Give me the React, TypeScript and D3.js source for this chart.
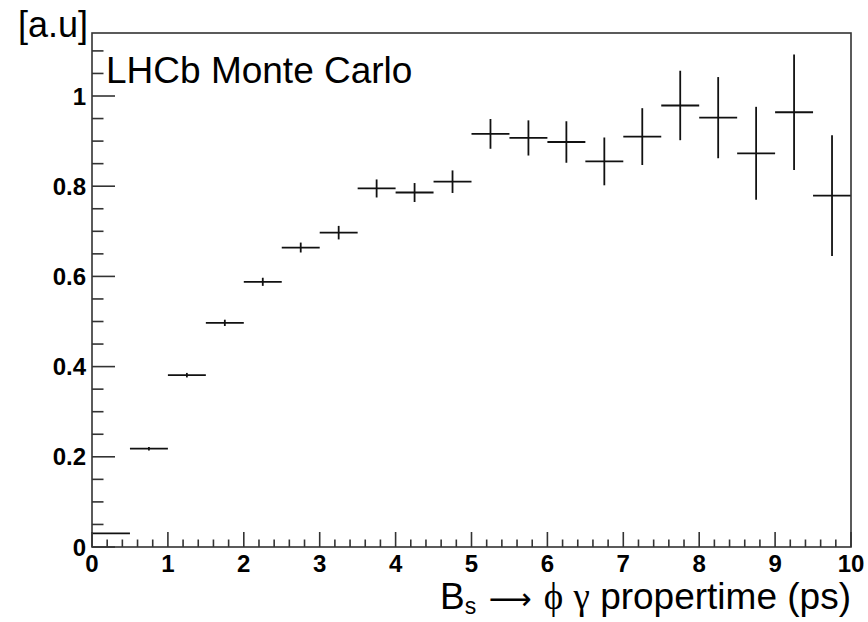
import React from "react";
import * as d3 from "d3";

const binLow = [0, 0.5, 1, 1.5, 2, 2.5, 3, 3.5, 4, 4.5, 5, 5.5, 6, 6.5, 7, 7.5, 8, 8.5, 9, 9.5];
const binHigh = [0.5, 1, 1.5, 2, 2.5, 3, 3.5, 4, 4.5, 5, 5.5, 6, 6.5, 7, 7.5, 8, 8.5, 9, 9.5, 10];
const values = [0.030, 0.218, 0.381, 0.497, 0.588, 0.664, 0.697, 0.795, 0.786, 0.810, 0.916, 0.907, 0.898, 0.855, 0.910, 0.979, 0.952, 0.873, 0.964, 0.779];
const errors = [0.001, 0.004, 0.005, 0.007, 0.009, 0.011, 0.015, 0.020, 0.021, 0.025, 0.033, 0.039, 0.046, 0.053, 0.063, 0.077, 0.090, 0.103, 0.128, 0.134];
const xTicks = [0, 1, 2, 3, 4, 5, 6, 7, 8, 9, 10];
const yTicks = [0, 0.2, 0.4, 0.6, 0.8, 1];
const yTickLabels = ["0", "0.2", "0.4", "0.6", "0.8", "1"];

const W = 868;
const H = 622;
const L = 92, R = 851, T = 33, B = 547;
const sans = "'Liberation Sans', Arial, Helvetica, sans-serif";
const serif = "'Liberation Serif', 'DejaVu Serif', serif";

export default function App() {
  const x = d3.scaleLinear().domain([0, 10]).range([L, R]);
  const y = d3.scaleLinear().domain([0, 1.1397]).range([B, T]);
  const xMinor = d3.range(0, 10.0001, 0.2).filter((v) => Math.abs(v - Math.round(v)) > 1e-6);
  const yMinor = d3.range(0, 1.14, 0.05).filter((v) => Math.abs(v * 5 - Math.round(v * 5)) > 1e-6);
  const tickColor = "#333";

  return (
    <svg width={W} height={H} style={{ position: "fixed", left: 0, top: 0, background: "#fff" }}>
      <rect x={0} y={0} width={W} height={H} fill="#fff" />
      {/* data */}
      {values.map((v, i) => (
        <g key={i} stroke="#111" strokeWidth={1.8}>
          <line x1={x(binLow[i])} x2={x(binHigh[i])} y1={y(v)} y2={y(v)} />
          <line x1={x((binLow[i] + binHigh[i]) / 2)} x2={x((binLow[i] + binHigh[i]) / 2)} y1={y(v - errors[i])} y2={y(v + errors[i])} />
        </g>
      ))}
      {/* frame */}
      <rect x={L} y={T} width={R - L} height={B - T} fill="none" stroke="#333" strokeWidth={1.6} />
      {/* x ticks */}
      {xTicks.map((t) => (
        <line key={"xt" + t} x1={x(t)} x2={x(t)} y1={B} y2={B - 15} stroke={tickColor} strokeWidth={1.6} />
      ))}
      {xMinor.map((t, i) => (
        <line key={"xm" + i} x1={x(t)} x2={x(t)} y1={B} y2={B - 7.5} stroke={tickColor} strokeWidth={1.6} />
      ))}
      {/* y ticks */}
      {yTicks.map((t) => (
        <line key={"yt" + t} x1={L} x2={L + 23} y1={y(t)} y2={y(t)} stroke={tickColor} strokeWidth={1.6} />
      ))}
      {yMinor.map((t, i) => (
        <line key={"ym" + i} x1={L} x2={L + 11.5} y1={y(t)} y2={y(t)} stroke={tickColor} strokeWidth={1.6} />
      ))}
      {/* tick labels */}
      {xTicks.map((t) => (
        <text key={"xl" + t} x={x(t)} y={572} textAnchor="middle" fontFamily={sans} fontWeight="bold" fontSize={24} fill="#000">
          {t}
        </text>
      ))}
      {yTicks.map((t, i) => (
        <text key={"yl" + t} x={86} y={y(t) + 8.5} textAnchor="end" fontFamily={sans} fontWeight="bold" fontSize={24} fill="#000">
          {yTickLabels[i]}
        </text>
      ))}
      {/* titles */}
      <text x={88} y={37} textAnchor="end" fontFamily={sans} fontSize={36} fill="#000">[a.u]</text>
      <text x={106} y={83} fontFamily={sans} fontSize={37} fill="#000">LHCb Monte Carlo</text>
      <text x={851} y={609} textAnchor="end" fontFamily={sans} fontSize={37} fill="#000">
        B<tspan fontSize={23} dy={5}>s</tspan>
        <tspan dy={-5}> </tspan>
        <tspan fontFamily="'DejaVu Sans', sans-serif" fontSize={30} dx={2}>⟶</tspan>
        <tspan dx={2}> </tspan>
        <tspan fontFamily={serif}>ϕ</tspan>
        <tspan> </tspan>
        <tspan fontFamily={serif}>γ</tspan>
        <tspan> propertime (ps)</tspan>
      </text>
    </svg>
  );
}
